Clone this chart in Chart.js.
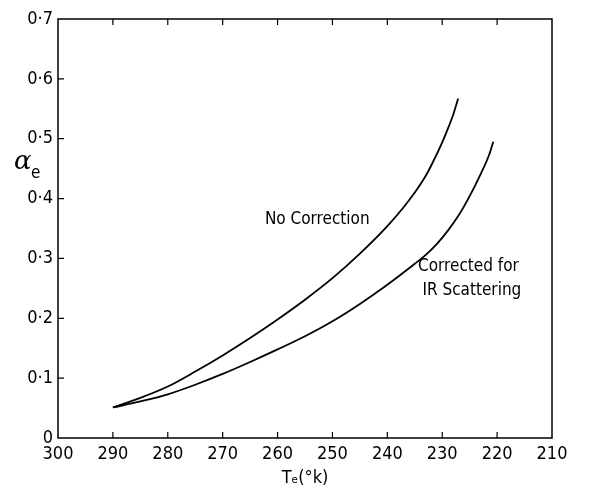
<!DOCTYPE html>
<html>
<head>
<meta charset="utf-8">
<script src="https://cdn.jsdelivr.net/npm/chart.js@4"></script>
<style>
  body { margin: 0; background: #fff; }
  #wrap { width: 612px; height: 496px; }
</style>
</head>
<body>
<div id="wrap"><canvas id="chart-1"></canvas></div>
<script>
const tempNoCorr = [290, 285, 280, 275, 270, 265, 260, 255, 250, 245, 240, 237, 235, 233, 231.8, 230, 229, 228, 227.1];
const alphaNoCorr = [0.051, 0.067, 0.086, 0.111, 0.138, 0.167, 0.198, 0.231, 0.267, 0.308, 0.354, 0.386, 0.410, 0.438, 0.459, 0.494, 0.516, 0.540, 0.567];

const tempCorr = [290, 285, 280, 275, 270, 265, 260, 255, 250, 245, 240, 235, 233, 231, 229, 227, 225, 223, 221.5, 220.7];
const alphaCorr = [0.051, 0.061, 0.073, 0.089, 0.107, 0.127, 0.148, 0.170, 0.195, 0.224, 0.256, 0.291, 0.306, 0.324, 0.346, 0.372, 0.404, 0.441, 0.472, 0.495];

const xTicks = [300, 290, 280, 270, 260, 250, 240, 230, 220, 210];
const yTicks = [0, 0.1, 0.2, 0.3, 0.4, 0.5, 0.6, 0.7];

const fontName = '"DejaVu Sans Condensed", "Liberation Sans Narrow", sans-serif';

function toPoints(xs, ys) {
  return xs.map((x, i) => ({ x: x, y: ys[i] }));
}

// frame, inward ticks, axis symbol and curve labels
const paperLook = {
  id: 'paperLook',
  afterDraw(chart) {
    const ctx = chart.ctx;
    const a = chart.chartArea;
    const xs = chart.scales.x;
    const ys = chart.scales.y;
    ctx.save();
    ctx.strokeStyle = '#000';
    ctx.lineWidth = 1.5;
    ctx.strokeRect(a.left, a.top, a.right - a.left, a.bottom - a.top);

    ctx.lineWidth = 1.2;
    ctx.beginPath();
    xTicks.forEach(t => {
      if (t === 300 || t === 210) return;
      const px = xs.getPixelForValue(t);
      ctx.moveTo(px, a.bottom); ctx.lineTo(px, a.bottom - 6);
      ctx.moveTo(px, a.top); ctx.lineTo(px, a.top + 6);
    });
    yTicks.forEach(t => {
      if (t === 0 || t === 0.7) return;
      const py = ys.getPixelForValue(t);
      ctx.moveTo(a.left, py); ctx.lineTo(a.left + 6, py);
    });
    ctx.stroke();

    ctx.fillStyle = '#000';
    ctx.textBaseline = 'middle';
    ctx.textAlign = 'left';
    const ay = ys.getPixelForValue(0.46);
    ctx.font = 'italic 26px "DejaVu Serif", serif';
    ctx.fillText('α', 14, ay);
    ctx.font = '17px ' + fontName;
    ctx.fillText('e', 31, ay + 11);

    ctx.font = '17px ' + fontName;
    ctx.fillText('No Correction', xs.getPixelForValue(262.3), ys.getPixelForValue(0.365));
    ctx.fillText('Corrected for', xs.getPixelForValue(234.4), ys.getPixelForValue(0.287));
    ctx.fillText('IR Scattering', xs.getPixelForValue(233.6), ys.getPixelForValue(0.246));
    ctx.restore();
  }
};

const chartOne = document.getElementById('chart-1');

new Chart(chartOne, {
  type: 'scatter',
  data: {
    datasets: [{
      label: 'No Correction',
      data: toPoints(tempNoCorr, alphaNoCorr),
      showLine: true,
      borderColor: '#000',
      borderWidth: 1.8,
      pointRadius: 0,
      cubicInterpolationMode: 'monotone'
    }, {
      label: 'Corrected for IR Scattering',
      data: toPoints(tempCorr, alphaCorr),
      showLine: true,
      borderColor: '#000',
      borderWidth: 1.8,
      pointRadius: 0,
      cubicInterpolationMode: 'monotone'
    }]
  },
  options: {
    responsive: true,
    maintainAspectRatio: false,
    animation: false,
    layout: { padding: { left: 0, right: 60, top: 19, bottom: 0 } },
    plugins: { legend: { display: false }, tooltip: { enabled: false } },
    scales: {
      x: {
        type: 'linear',
        reverse: true,
        min: 210,
        max: 300,
        afterBuildTicks: s => { s.ticks = xTicks.map(v => ({ value: v })); },
        afterFit: s => { s.height = 58; },
        grid: { display: false, drawTicks: false },
        border: { display: false },
        ticks: {
          padding: 6,
          color: '#000',
          font: { family: fontName, size: 18 },
          maxRotation: 0,
          callback: v => String(v)
        },
        title: {
          display: true,
          text: 'Tₑ(°k)',
          color: '#000',
          font: { family: fontName, size: 18 },
          padding: { top: 0, bottom: 7 }
        }
      },
      y: {
        type: 'linear',
        min: 0,
        max: 0.7,
        afterBuildTicks: s => { s.ticks = yTicks.map(v => ({ value: v })); },
        afterFit: s => { s.width = 58; },
        grid: { display: false, drawTicks: false },
        border: { display: false },
        ticks: {
          padding: 5,
          color: '#000',
          font: { family: fontName, size: 18 },
          callback: v => v === 0 ? '0' : v.toFixed(1).replace('.', '·')
        }
      }
    }
  },
  plugins: [paperLook]
});
</script>
</body>
</html>
